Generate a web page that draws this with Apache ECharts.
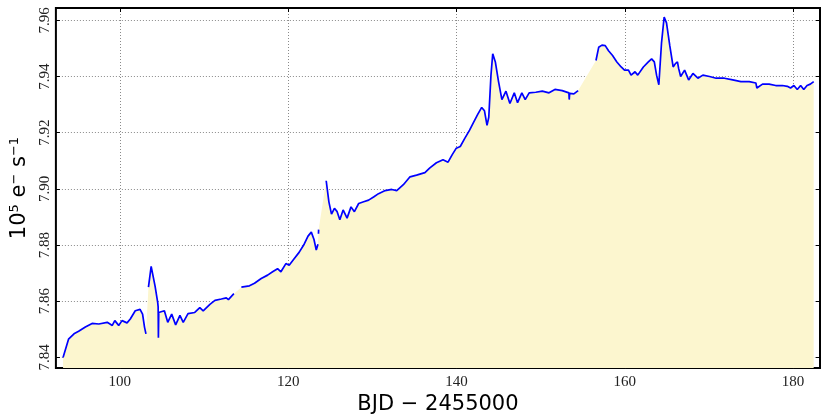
<!DOCTYPE html>
<html>
<head>
<meta charset="utf-8">
<script src="https://cdn.jsdelivr.net/npm/echarts@6/dist/echarts.min.js"></script>
<style>
  html, body { margin: 0; padding: 0; background: #fff; }
  #chart { width: 830px; height: 420px; }
</style>
</head>
<body>
<div id="chart"></div>
<script>
// BJD - 2455000; null marks a gap in the light curve
const days = [
  93.25, 93.9, 94.55, 95.1, 95.9, 96.7, 97.5, 98.5, 99.1, 99.4, 99.86, 100.26, 100.85, 101.24, 101.83, 102.4, 102.7, 102.93, 103.1,
  103.2,
  103.4, 103.72, 104.19, 104.5, 104.55, 104.58, 104.62, 104.78, 105.29, 105.69, 106.16, 106.63, 107.14, 107.53, 108.1, 108.9,
  109.5, 109.9, 110.7, 111.3, 112.06, 112.65, 112.9, 113.55,
  114.0,
  114.44, 115.4, 116.0, 116.8, 117.56, 118.15, 118.74, 119.14, 119.73, 120.12, 120.71, 121.3, 121.9, 122.36, 122.75, 123.07,
  123.34, 123.54,
  123.57,
  123.6, 123.62,
  124.0,
  124.52, 124.84, 125.15, 125.5, 125.82, 126.14, 126.53, 127.0, 127.47, 127.87, 128.38, 128.97, 129.56, 130.15, 130.74, 131.53,
  132.31, 132.9, 133.69, 134.48, 135.26, 136.25, 136.84, 137.62, 138.4, 139.0, 139.5, 139.98, 140.45, 140.97, 141.56, 142.03,
  142.54, 143.0, 143.33, 143.63, 143.84, 144.1, 144.31, 144.62, 145.0, 145.4, 145.88, 146.35, 146.87, 147.26, 147.77, 148.17,
  148.64, 149.42, 150.2, 151.0, 151.7, 152.57, 153.36, 153.4, 153.45, 153.95, 154.46,
  155.5,
  156.58, 156.9, 157.29, 157.68, 158.07, 158.55, 159.06, 159.57, 159.97, 160.44, 160.75, 161.22, 161.54, 162.21, 162.8, 163.19,
  163.51, 163.78, 164.05, 164.37, 164.68, 164.96, 165.35, 165.75, 166.02, 166.26, 166.4, 166.64, 167.11, 167.59, 168.1, 168.69,
  169.28, 170.07, 170.86, 171.84, 172.83, 173.8, 174.79, 175.58, 175.7, 176.37, 177.15, 177.94, 178.73, 179.32, 179.7, 180.1,
  180.5, 180.9, 181.27, 181.66, 182.05, 182.45
];
// flux, 10^5 e- s^-1
const flux = [
  7.8400, 7.8465, 7.8484, 7.8493, 7.8508, 7.8521, 7.8519, 7.8525, 7.8514, 7.8531, 7.8514, 7.8531, 7.8523, 7.8537, 7.8566, 7.8571, 7.8554, 7.8508, 7.8484,
  null,
  7.8650, 7.8724, 7.8653, 7.8595, 7.8580, 7.8470, 7.8560, 7.8554, 7.8566, 7.8525, 7.8554, 7.8516, 7.8550, 7.8525, 7.8556, 7.8560,
  7.8577, 7.8566, 7.8589, 7.8603, 7.8608, 7.8612, 7.8606, 7.8627,
  null,
  7.8650, 7.8655, 7.8664, 7.8681, 7.8693, 7.8705, 7.8716, 7.8705, 7.8734, 7.8728, 7.8751, 7.8774, 7.8803, 7.8832, 7.8846, 7.8820,
  7.8782, 7.8803,
  null,
  7.8840, 7.8855,
  null,
  7.9029, 7.8954, 7.8910, 7.8931, 7.8919, 7.8890, 7.8925, 7.8896, 7.8936, 7.8919, 7.8948, 7.8954, 7.8960, 7.8971, 7.8983, 7.8994,
  7.8998, 7.8994, 7.9015, 7.9043, 7.9049, 7.9058, 7.9075, 7.9093, 7.9104, 7.9095, 7.9122, 7.9145, 7.9151, 7.9179, 7.9209, 7.9237,
  7.9266, 7.9290, 7.9278, 7.9226, 7.9255, 7.9405, 7.9481, 7.9452, 7.9382, 7.9318, 7.9348, 7.9304, 7.9342, 7.9307, 7.9342, 7.9318,
  7.9342, 7.9344, 7.9348, 7.9342, 7.9354, 7.9350, 7.9342, 7.9318, 7.9340, 7.9338, 7.9350,
  null,
  7.9457, 7.9504, 7.9512, 7.9510, 7.9492, 7.9475, 7.9452, 7.9434, 7.9423, 7.9423, 7.9405, 7.9417, 7.9405, 7.9434, 7.9452, 7.9463,
  7.9452, 7.9405, 7.9371, 7.9521, 7.9612, 7.9591, 7.9510, 7.9434, 7.9446, 7.9452, 7.9429, 7.9400, 7.9423, 7.9388, 7.9411, 7.9394,
  7.9405, 7.9400, 7.9394, 7.9394, 7.9388, 7.9382, 7.9382, 7.9377, 7.9359, 7.9373, 7.9373, 7.9368, 7.9368, 7.9365, 7.9359, 7.9368,
  7.9354, 7.9368, 7.9354, 7.9368, 7.9373, 7.9382
];
const xTicks = [100, 120, 140, 160, 180];
const yTicks = [7.84, 7.86, 7.88, 7.90, 7.92, 7.94, 7.96];

const lineData = days.map((d, i) => [d, flux[i]]);
const fillData = lineData.filter(p => p[1] !== null);

const gridLine = { show: true, lineStyle: { color: '#8a8a8a', width: 1, type: [1, 2] } };
const tickLabel = { fontFamily: 'Liberation Serif', fontSize: 15, color: '#222' };

let myChart = echarts.init(document.getElementById('chart'));
myChart.setOption({
    animation: false,
    grid: {
        left: 50, right: 10, top: 8, bottom: 43,
        show: true, borderColor: '#000', borderWidth: 2, backgroundColor: 'transparent'
    },
    xAxis: [
        {
            type: 'value', min: 92.4, max: 183.2,
            name: 'BJD − 2455000', nameLocation: 'middle', nameGap: 15,
            nameTextStyle: { fontFamily: 'DejaVu Sans', fontSize: 21, color: '#000' },
            axisLine: { show: false },
            axisTick: { inside: true, length: 4, customValues: xTicks, lineStyle: { color: '#000' } },
            axisLabel: { ...tickLabel, margin: 6, customValues: xTicks },
            splitLine: gridLine
        },
        {
            type: 'value', min: 92.4, max: 183.2, position: 'top',
            axisLine: { show: false },
            axisTick: { inside: true, length: 4, customValues: xTicks, lineStyle: { color: '#000' } },
            axisLabel: { show: false },
            splitLine: { show: false }
        }
    ],
    yAxis: [
        {
            type: 'value', min: 7.8362, max: 7.9644,
            name: '10{sup|5} e{sup|−} s{sup|−1}', nameLocation: 'middle', nameGap: 18, nameRotate: 90,
            nameTextStyle: {
                fontFamily: 'DejaVu Sans', fontSize: 21, color: '#000',
                rich: { sup: { fontFamily: 'DejaVu Sans', fontSize: 13, verticalAlign: 'top', padding: [0, 0, 10, 0] } }
            },
            axisLine: { show: false },
            axisTick: { inside: true, length: 4, customValues: yTicks, lineStyle: { color: '#000' } },
            axisLabel: { ...tickLabel, rotate: 90, margin: 3, customValues: yTicks, formatter: v => v.toFixed(2) },
            splitLine: gridLine
        },
        {
            type: 'value', min: 7.8362, max: 7.9644, position: 'right',
            axisLine: { show: false },
            axisTick: { inside: true, length: 4, customValues: yTicks, lineStyle: { color: '#000' } },
            axisLabel: { show: false },
            splitLine: { show: false }
        }
    ],
    series: [
        {
            name: 'fill',
            type: 'line',
            data: fillData,
            symbol: 'none',
            lineStyle: { width: 0 },
            areaStyle: { color: '#fcf6cf', opacity: 1, origin: 'start' },
            z: 1
        },
        {
            name: 'flux',
            type: 'line',
            data: lineData,
            symbol: 'none',
            connectNulls: false,
            lineStyle: { color: '#0000ff', width: 1.7 },
            z: 3
        }
    ]
});
</script>
</body>
</html>
